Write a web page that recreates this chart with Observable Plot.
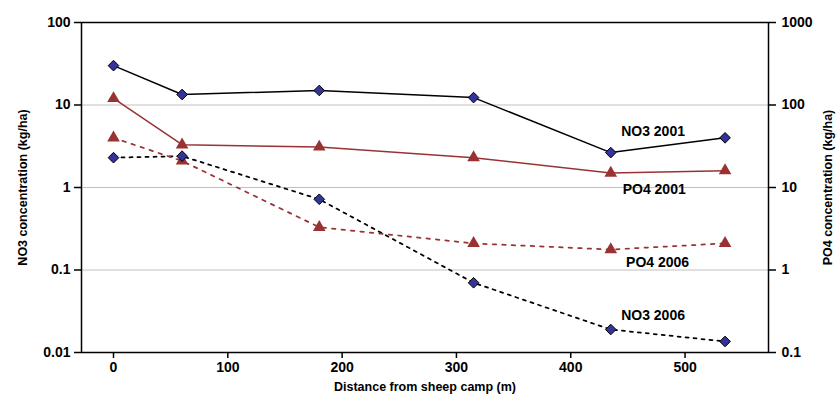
<!DOCTYPE html>
<html>
<head>
<meta charset="utf-8">
<script src="https://cdn.jsdelivr.net/npm/d3@7"></script>
<script src="https://cdn.jsdelivr.net/npm/@observablehq/plot@0.6"></script>
<style>
html, body { margin: 0; padding: 0; background: #fff; }
</style>
</head>
<body>
<div id="chart"></div>
<script>
// ---- data ----
const distance = [0, 60, 180, 315, 435, 535];
const no3_2001 = [30, 13.4, 15, 12.3, 2.65, 4.0];
const no3_2006 = [2.3, 2.4, 0.72, 0.07, 0.019, 0.0136];
const po4_2001 = [120, 33, 31, 23, 15, 16];
const po4_2006 = [40, 21, 3.3, 2.1, 1.77, 2.1];

const leftTicks = [0.01, 0.1, 1, 10, 100];
const leftTickLabels = ["0.01", "0.1", "1", "10", "100"];
const rightTicks = [0.1, 1, 10, 100, 1000];
const rightTickLabels = ["0.1", "1", "10", "100", "1000"];
const xTicks = [0, 100, 200, 300, 400, 500];
const xTickLabels = ["0", "100", "200", "300", "400", "500"];
const gridValues = [0.1, 1, 10];

const seriesLabels = ["NO3 2001", "PO4 2001", "PO4 2006", "NO3 2006"];
const labelX = [472, 473, 476, 472];
const labelY = [4.8, 0.95, 0.123, 0.028];

const xDomain = [-28, 573];
const yDomain = [0.01, 100];
const po4Factor = rightTicks[0] / leftTicks[0]; // right axis = left axis x 10

const xTitle = "Distance from sheep camp (m)";
const yLeftTitle = "NO3 concentration (kg/ha)";
const yRightTitle = "PO4 concentration (kg/ha)";

// ---- build tables ----
const rows = (vals, factor) => distance.map((x, i) => ({x, y: vals[i] / factor}));
const sNo3_2001 = rows(no3_2001, 1);
const sNo3_2006 = rows(no3_2006, 1);
const sPo4_2001 = rows(po4_2001, po4Factor);
const sPo4_2006 = rows(po4_2006, po4Factor);
const labels = seriesLabels.map((t, i) => ({t, x: labelX[i], y: labelY[i]}));

const leftMap = new Map(leftTicks.map((v, i) => [v, leftTickLabels[i]]));
const rightPos = rightTicks.map(v => v / po4Factor);
const rightMap = new Map(rightPos.map((v, i) => [v, rightTickLabels[i]]));
const xMap = new Map(xTicks.map((v, i) => [v, xTickLabels[i]]));

const BROWN = "#993333";
const BLUE = "#333399";
const font = "'Liberation Sans', Arial, Helvetica, sans-serif";

const chart = Plot.plot({
  width: 836,
  height: 395,
  marginLeft: 81,
  marginRight: 68,
  marginTop: 22,
  marginBottom: 43,
  style: {fontFamily: font, fontSize: "14px", fontWeight: "bold", color: "black", background: "white", overflow: "visible"},
  x: {type: "linear", domain: xDomain},
  y: {type: "log", domain: yDomain},
  marks: [
    Plot.ruleY(gridValues, {stroke: "#c0c0c0", strokeWidth: 1}),
    Plot.axisX({ticks: xTicks, tickFormat: d => xMap.get(d), tickSize: 6, tickPadding: 4, label: null, strokeWidth: 1.5, fontSize: 14}),
    Plot.axisY({anchor: "left", ticks: leftTicks, tickFormat: d => leftMap.get(d), tickSize: 7, tickPadding: 4, label: null, strokeWidth: 1.5, fontSize: 14}),
    Plot.axisY({anchor: "right", ticks: rightPos, tickFormat: d => rightMap.get(d), tickSize: 7, tickPadding: 6, label: null, strokeWidth: 1.5, fontSize: 14}),
    Plot.frame({stroke: "black", strokeWidth: 1.5}),
    Plot.line(sNo3_2006, {x: "x", y: "y", stroke: "black", strokeWidth: 1.75, strokeDasharray: "3,5"}),
    Plot.line(sPo4_2006, {x: "x", y: "y", stroke: BROWN, strokeWidth: 1.75, strokeDasharray: "3.5,6"}),
    Plot.line(sPo4_2001, {x: "x", y: "y", stroke: BROWN, strokeWidth: 1.5}),
    Plot.line(sNo3_2001, {x: "x", y: "y", stroke: "black", strokeWidth: 1.5}),
    Plot.dot(sPo4_2006, {x: "x", y: "y", symbol: "triangle", r: 4.7, fill: BROWN, stroke: "none"}),
    Plot.dot(sPo4_2001, {x: "x", y: "y", symbol: "triangle", r: 4.7, fill: BROWN, stroke: "none"}),
    Plot.dot(sNo3_2006, {x: "x", y: "y", symbol: "diamond2", r: 4.8, fill: BLUE, stroke: "black", strokeWidth: 1}),
    Plot.dot(sNo3_2001, {x: "x", y: "y", symbol: "diamond2", r: 4.8, fill: BLUE, stroke: "black", strokeWidth: 1}),
    Plot.text(labels, {x: "x", y: "y", text: "t", fontSize: 14, fontWeight: "bold", fill: "black"}),
    Plot.text([xTitle], {frameAnchor: "bottom", dy: 38, textAnchor: "middle", fontSize: 12.5, fontWeight: "bold", fill: "black"}),
    Plot.text([yLeftTitle], {frameAnchor: "left", dx: -59, rotate: -90, textAnchor: "middle", fontSize: 12.5, fontWeight: "bold", fill: "black"}),
    Plot.text([yRightTitle], {frameAnchor: "right", dx: 59, rotate: -90, textAnchor: "middle", fontSize: 12.5, fontWeight: "bold", fill: "black"})
  ]
});
document.getElementById("chart").appendChild(chart);
</script>
</body>
</html>
